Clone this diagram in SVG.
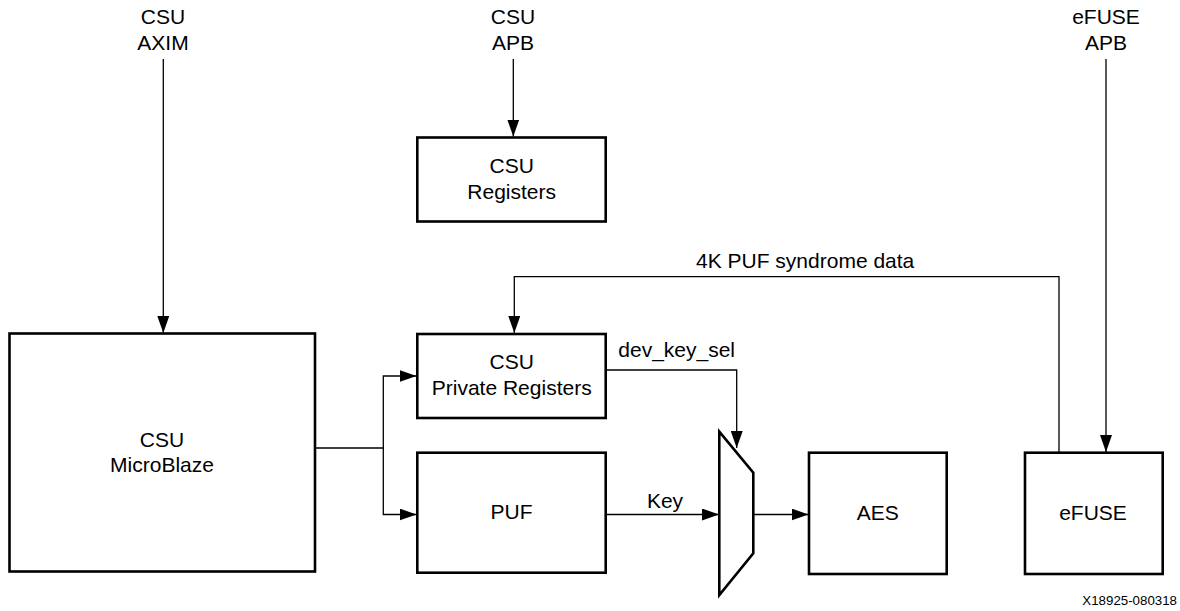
<svg xmlns="http://www.w3.org/2000/svg" width="1180" height="611" viewBox="0 0 1180 611">
<style>
.box{fill:#fff;stroke:#000;stroke-width:2.6;stroke-linejoin:miter}
.ln{fill:none;stroke:#000;stroke-width:1.3}
.t{font-family:"Liberation Sans",Arial,sans-serif;font-size:21px;fill:#000;text-anchor:middle}
.ts{font-family:"Liberation Sans",Arial,sans-serif;font-size:21px;fill:#000}
.id{font-family:"Liberation Sans",Arial,sans-serif;font-size:13.3px;fill:#000;text-anchor:end}
</style>
<defs>
<marker id="ah" markerUnits="userSpaceOnUse" markerWidth="17" markerHeight="12" refX="17" refY="6" orient="auto">
<path d="M0,0 L17,6 L0,12 z" fill="#000"/>
</marker>
</defs>
<rect width="1180" height="611" fill="#fff"/>
<g id="label-csu-axim"><text class="t" x="163" y="24">CSU</text><text class="t" x="163" y="50">AXIM</text></g>
<g id="label-csu-apb"><text class="t" x="513" y="24">CSU</text><text class="t" x="513" y="50">APB</text></g>
<g id="label-efuse-apb"><text class="t" x="1106" y="24">eFUSE</text><text class="t" x="1106" y="50">APB</text></g>
<g id="connectors">
<line class="ln" x1="163.3" y1="59" x2="163.3" y2="333" marker-end="url(#ah)"/>
<line class="ln" x1="513.3" y1="59" x2="513.3" y2="136.5" marker-end="url(#ah)"/>
<line class="ln" x1="1106" y1="59" x2="1106" y2="452" marker-end="url(#ah)"/>
<polyline class="ln" points="1059,452 1059,276.7 514.3,276.7 514.3,333" marker-end="url(#ah)"/>
<polyline class="ln" points="315,448 383.3,448 383.3,376 416.5,376" marker-end="url(#ah)"/>
<polyline class="ln" points="383.3,448 383.3,514.5 416.5,514.5" marker-end="url(#ah)"/>
<polyline class="ln" points="606,370 736.7,370 736.7,448" marker-end="url(#ah)"/>
<line class="ln" x1="606" y1="514.5" x2="719" y2="514.5" marker-end="url(#ah)"/>
<line class="ln" x1="753" y1="514.5" x2="808.5" y2="514.5" marker-end="url(#ah)"/>
<text class="ts" x="696" y="268.3">4K PUF syndrome data</text>
<text class="ts" x="618.3" y="357.3">dev_key_sel</text>
<text class="t" x="665" y="508.3">Key</text>
</g>
<g id="csu-microblaze"><rect class="box" x="9.5" y="333.5" width="305.5" height="238"/><text class="t" x="162" y="446.7">CSU</text><text class="t" x="162" y="471.7">MicroBlaze</text></g>
<g id="csu-registers"><rect class="box" x="417.3" y="137.5" width="188.4" height="84"/><text class="t" x="511.7" y="172.7">CSU</text><text class="t" x="511.7" y="199">Registers</text></g>
<g id="csu-private-registers"><rect class="box" x="417.3" y="334" width="188.4" height="84"/><text class="t" x="511.7" y="369.3">CSU</text><text class="t" x="511.7" y="395">Private Registers</text></g>
<g id="puf"><rect class="box" x="417.3" y="452.7" width="188.4" height="120"/><text class="t" x="511.5" y="519.3">PUF</text></g>
<g id="mux"><polygon class="box" points="719.3,431.7 753.3,472.7 753.3,553.3 719.3,595"/></g>
<g id="aes"><rect class="box" x="809" y="452.7" width="137.7" height="121.3"/><text class="t" x="877.7" y="520">AES</text></g>
<g id="efuse"><rect class="box" x="1025" y="452.7" width="137.7" height="121.3"/><text class="t" x="1093" y="520">eFUSE</text></g>
<text class="id" x="1177" y="605">X18925-080318</text>
</svg>
